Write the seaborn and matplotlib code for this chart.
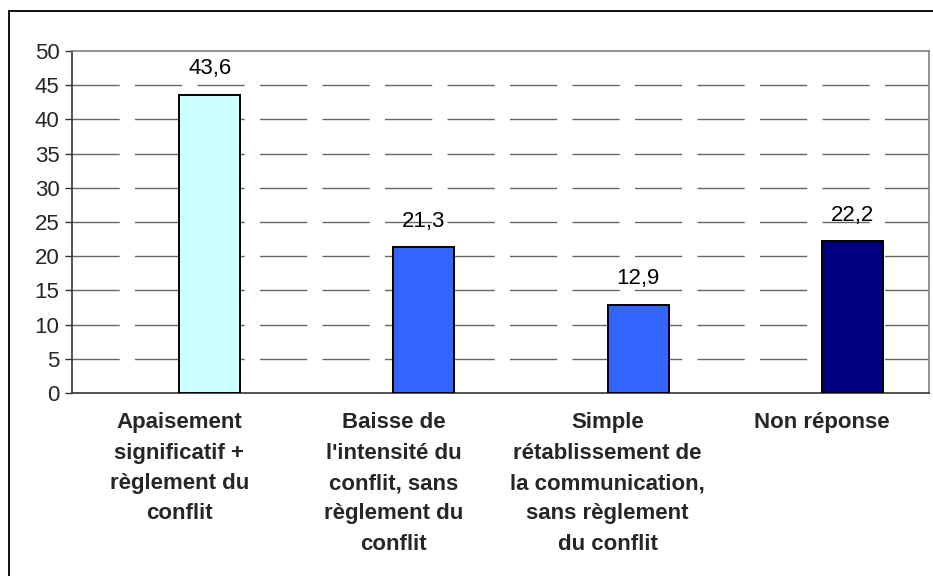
import pandas as pd
import numpy as np
import matplotlib
matplotlib.use('Agg')
import matplotlib.pyplot as plt
from matplotlib.lines import Line2D
import seaborn as sns

# valeurs (%)
categories = [
    "Apaisement\nsignificatif +\nrèglement du\nconflit",
    "Baisse de\nl'intensité du\nconflit, sans\nrèglement du\nconflit",
    "Simple\nrétablissement de\nla communication,\nsans règlement\ndu conflit",
    "Non réponse",
]
values = [43.6, 21.3, 12.9, 22.2]
value_labels = ["43,6", "21,3", "12,9", "22,2"]
bar_colors = ["#CCFFFF", "#3366FF", "#3366FF", "#000080"]

df = pd.DataFrame({"cat": categories, "val": values, "serie": "pct"})

sns.set_theme(style="white")
plt.rcParams['font.family'] = ['Liberation Sans', 'DejaVu Sans']

fig = plt.figure(figsize=(9.33, 5.76), dpi=100)
ax = fig.add_axes([72 / 933, 183 / 576, (929 - 72) / 933, (393 - 51) / 576])

# serie vide a gauche, comme un histogramme groupe Excel
sns.barplot(data=df, x="cat", y="val", hue="serie", hue_order=["vide", "pct"],
            order=categories, width=0.57, gap=0, dodge=True, legend=False,
            edgecolor="black", linewidth=1.4, ax=ax, zorder=3)

bars = [p for p in ax.patches if p.get_height() > 0]
for p, c, lab in zip(bars, bar_colors, value_labels):
    p.set_facecolor(c)
    ax.annotate(lab, (p.get_x() + p.get_width() / 2, p.get_height()),
                xytext=(0, 11), textcoords="offset points",
                ha="center", va="bottom", fontsize=16, color="black")

ax.set_xlim(-0.5, 3.5)
ax.set_ylim(0, 50)
ax.set_yticks(range(0, 51, 5))
ax.set_xlabel("")
ax.set_ylabel("")

# grille en tirets
for yv in range(5, 50, 5):
    ax.axhline(yv, color="#666666", linewidth=1.0, linestyle=(0, (34, 11)), zorder=1)

ax.set_xticks(range(len(categories)))
ax.set_xticklabels(categories, fontsize=16, fontweight="bold", linespacing=1.58,
                   multialignment="center", va="top")
ax.set_xticks(np.arange(-0.5, 4, 1), minor=True)
ax.tick_params(axis="x", which="major", length=0, pad=14)
ax.tick_params(axis="x", which="minor", length=5, width=1, color="#333333", direction="out")
ax.tick_params(axis="y", length=5, width=1, color="#333333", direction="out",
               labelsize=16, pad=4, left=True)

for side in ["left", "bottom"]:
    ax.spines[side].set_color("#333333")
    ax.spines[side].set_linewidth(1.2)
for side in ["top", "right"]:
    ax.spines[side].set_color("#808080")
    ax.spines[side].set_linewidth(1.2)

# cadre exterieur
x0 = 9 / 933
y0 = 1 - 11 / 576
fig.add_artist(Line2D([x0, x0], [0, y0], color="black", linewidth=1.3, transform=fig.transFigure))
fig.add_artist(Line2D([x0, 1], [y0, y0], color="black", linewidth=1.3, transform=fig.transFigure))

plt.savefig("out.png", dpi=100)
